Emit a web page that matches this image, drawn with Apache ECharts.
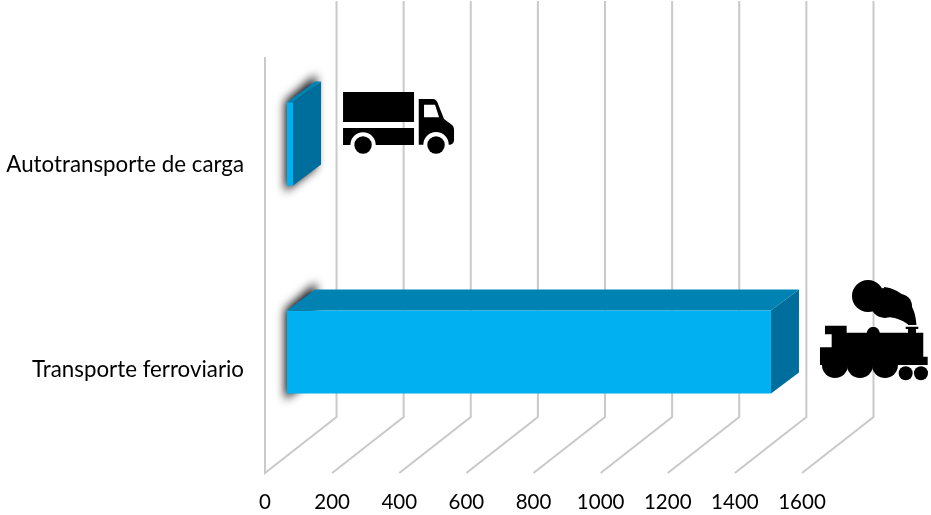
<!DOCTYPE html>
<html>
<head>
<meta charset="utf-8">
<style>html,body{margin:0;padding:0;background:#fff}#c{width:931px;height:515px}</style>
<script src="https://cdn.jsdelivr.net/npm/echarts@6/dist/echarts.min.js"></script>
</head>
<body>
<div id="c"></div>
<script>
var categories = ['Transporte ferroviario', 'Autotransporte de carga'];
var values = [1442, 18];
var xTicks = [0, 200, 400, 600, 800, 1000, 1200, 1400, 1600];
var icons = ['train', 'truck'];

var FLOOR = [71.5, -56];
var FRONT = [22, -17];
var DEPTH = [28, -21];
var TRUCK = [
  'M0 0H71V30H0Z',
  'M0 36H71V53H32.7A12.7 12.7 0 0 0 7.3 53H0Z',
  'M11.3 53A8.7 8.7 0 1 0 28.7 53A8.7 8.7 0 1 0 11.3 53Z',
  'M75.7 52.7V7H89.7C92.5 7 94.3 9 95.3 12.7L101 27L108.7 32.7C110.3 34 111 36 111 37.7V47.7C111 50.5 109.5 52.7 106 52.7H105.7A12.7 12.7 0 0 0 80.3 52.7Z M81 12.7V25.3H96L92 12.7Z',
  'M84.3 53A8.7 8.7 0 1 0 101.7 53A8.7 8.7 0 1 0 84.3 53Z'
];
var TRAIN = [
  'M32 16A16 16 0 1 1 64 16A16 16 0 1 1 32 16Z',
  'M50 23A15 15 0 1 1 80 23A15 15 0 1 1 50 23Z',
  'M68 26A12 12 0 1 1 92 26A12 12 0 1 1 68 26Z',
  'M64 7C82 9 96 24 96.5 45H88.5C84 41 78 38 68 37Z',
  'M85.7 46.7H98.3V49H96V53H88V49H85.7Z',
  'M5 45.7H26.7V52.7H46.8C47.5 49 50 47 53.3 47C56.6 47 59.2 49 59.8 52.7H103.3V76.7H107.7V85H0V67.3H11.7V54.3H5Z',
  'M2 85A13 13 0 0 0 28 85Z',
  'M27 85A13 13 0 0 0 53 85Z',
  'M52 85A13 13 0 0 0 78 85Z',
  'M78.7 93.3A7 7 0 1 0 92.7 93.3A7 7 0 1 0 78.7 93.3Z',
  'M94 93.3A7 7 0 1 0 108 93.3A7 7 0 1 0 94 93.3Z'
];

function renderGrid(params, api) {
  var v = api.value(0);
  var x = api.coord([v, 0])[0];
  var floorY = params.coordSys.y + params.coordSys.height;
  var topY = params.coordSys.y;
  var pts = [[x, floorY], [x + FLOOR[0], floorY + FLOOR[1]], [x + FLOOR[0], topY + FLOOR[1]]];
  if (v === 0) pts.unshift([x, topY]);
  return {
    type: 'polyline',
    shape: { points: pts },
    style: { stroke: '#c9c9c9', lineWidth: 2, fill: null, lineJoin: 'miter' }
  };
}

function renderBar(params, api) {
  var v0 = api.coord([0, api.value(1)]);
  var v1 = api.coord([api.value(0), api.value(1)]);
  var h = api.size([0, 1])[1] * 0.4;
  var x0 = v0[0] + FRONT[0], x1 = v1[0] + FRONT[0];
  var y0 = v0[1] + FRONT[1] - h / 2, y1 = y0 + h;
  var dx = DEPTH[0], dy = DEPTH[1];
  var OFF = 3000;
  return {
    type: 'group',
    children: [
      { type: 'polygon', shape: { points: [[x0 - 2 - OFF, y0 - 1], [x0 + dx + 1 - OFF, y0 + dy - 7], [x0 + dx + 1 - OFF, y1 + dy + 3], [x0 - 2 - OFF, y1 + 6]] },
        style: { fill: '#000', shadowBlur: 10, shadowOffsetX: OFF, shadowColor: 'rgba(0,0,0,0.95)' } },
      { type: 'polygon', shape: { points: [[x0, y0], [x1, y0], [x1 + dx, y0 + dy], [x0 + dx, y0 + dy]] }, style: { fill: '#0083B3' } },
      { type: 'polygon', shape: { points: [[x1, y0], [x1 + dx, y0 + dy], [x1 + dx, y1 + dy], [x1, y1]] }, style: { fill: '#006E9C' } },
      { type: 'rect', shape: { x: x0, y: y0, width: x1 - x0, height: h }, style: { fill: '#00B0F0' } }
    ]
  };
}

function renderIcon(params, api) {
  var p = api.coord([api.value(0), api.value(1)]);
  var isTrain = icons[params.dataIndex] === 'train';
  var x = p[0] + FRONT[0] + DEPTH[0] + (isTrain ? 21 : 22);
  var y = p[1] + (isTrain ? -89 : -69);
  return {
    type: 'group',
    x: x, y: y,
    children: (isTrain ? TRAIN : TRUCK).map(function (d) {
      return { type: 'path', shape: { pathData: d, layout: 'none' }, style: { fill: '#000' } };
    })
  };
}

var barData = values.map(function (v, i) { return [v, i]; });
var chart = echarts.init(document.getElementById('c'), null, { renderer: 'canvas' });
chart.setOption({
  animation: false,
  backgroundColor: '#fff',
  grid: { left: 265, top: 57, width: 537, height: 416, containLabel: false },
  xAxis: {
    type: 'value', min: 0, max: 1600, interval: 200,
    axisLine: { show: false }, axisTick: { show: false }, splitLine: { show: false },
    axisLabel: {
      color: '#000', fontFamily: 'Lato', fontSize: 20.5, margin: 19, hideOverlap: false,
      formatter: function (v) { return String(v); }
    }
  },
  yAxis: {
    type: 'category', data: categories,
    axisLine: { show: false }, axisTick: { show: false }, splitLine: { show: false },
    axisLabel: {
      color: '#000', fontFamily: 'Lato', fontSize: 22.3, margin: 21,
      formatter: function (v, i) { return (i === 1 ? '{b|' : '{a|') + v + '}'; },
      rich: {
        a: { fontFamily: 'Lato', fontSize: 22.3, color: '#000', padding: [2, 0, 0, 0] },
        b: { fontFamily: 'Lato', fontSize: 22.3, color: '#000', padding: [8, 0, 0, 0] }
      }
    }
  },
  series: [
    { type: 'custom', z: 1, silent: true, renderItem: renderGrid, data: xTicks.map(function (t) { return [t]; }), encode: { x: 0 } },
    { type: 'custom', z: 2, silent: true, renderItem: renderBar, data: barData, encode: { x: 0, y: 1 } },
    { type: 'custom', z: 3, silent: true, renderItem: renderIcon, data: barData, encode: { x: 0, y: 1 } }
  ]
});
</script>
</body>
</html>
